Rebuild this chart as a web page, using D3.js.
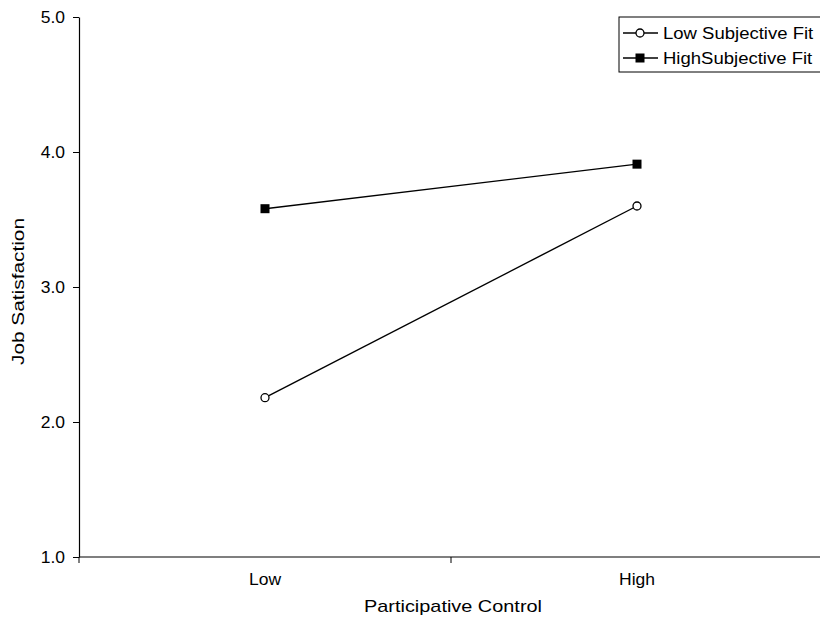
<!DOCTYPE html>
<html>
<head>
<meta charset="utf-8">
<script src="https://cdn.jsdelivr.net/npm/d3@7"></script>
<style>
  body { margin: 0; background: #fff; }
  text { font-family: "Liberation Sans", Arial, sans-serif; fill: #000; }
</style>
</head>
<body>
<script>
const w = 820;
const h = 627;

const categories = ["Low", "High"];
const seriesNames = ["Low Subjective Fit", "HighSubjective Fit"];
const lowFit = [2.18, 3.60];
const highFit = [3.58, 3.91];
const yTicks = [1, 2, 3, 4, 5];

// the original text is a bit wider than Arial, so stretch along the baseline
const sx = 1.06;

const svg = d3.select("body")
  .append("svg")
  .attr("width", w)
  .attr("height", h);

const x = d3.scaleBand()
  .domain(categories)
  .range([79, 823]);

const y = d3.scaleLinear()
  .domain([1, 5])
  .range([557, 17]);

// y axis
const yAxis = svg.append("g")
  .attr("transform", "translate(79,0)")
  .call(d3.axisLeft(y).tickValues(yTicks).tickFormat(d3.format(".1f")).tickSize(6).tickSizeOuter(0));
yAxis.select(".domain").attr("stroke", "#000").attr("stroke-width", 1.2);
yAxis.selectAll(".tick line").attr("stroke", "#000");
yAxis.selectAll(".tick text")
  .attr("font-size", 16.5)
  .attr("x", -14 / sx)
  .attr("dy", "0.35em")
  .attr("transform", "scale(" + sx + ",1)");

// x axis, ticks on band edges
const xAxis = svg.append("g")
  .attr("transform", "translate(0,557)");
xAxis.append("line")
  .attr("x1", 79).attr("x2", 823)
  .attr("stroke", "#000").attr("stroke-width", 1.2);
xAxis.selectAll(".edge")
  .data(categories.map(c => x(c)).concat([x.range()[1]]))
  .enter()
  .append("line")
  .attr("x1", d => d).attr("x2", d => d)
  .attr("y1", 0).attr("y2", 6)
  .attr("stroke", "#000");
xAxis.selectAll(".lbl")
  .data(categories)
  .enter()
  .append("text")
  .attr("x", d => (x(d) + x.bandwidth() / 2) / sx)
  .attr("y", 28)
  .attr("transform", "scale(" + sx + ",1)")
  .attr("text-anchor", "middle")
  .attr("font-size", 16.5)
  .text(d => d);

// titles
svg.append("text")
  .attr("x", 453 - 89)
  .attr("y", 612)
  .attr("font-size", 17)
  .attr("textLength", 178)
  .attr("lengthAdjust", "spacingAndGlyphs")
  .text("Participative Control");

svg.append("text")
  .attr("transform", "translate(24,365) rotate(-90)")
  .attr("font-size", 17)
  .attr("textLength", 147)
  .attr("lengthAdjust", "spacingAndGlyphs")
  .text("Job Satisfaction");

const cx = d => x(d) + x.bandwidth() / 2;
const line = d3.line()
  .x((d, i) => cx(categories[i]))
  .y(d => y(d));

// lines
[lowFit, highFit].forEach(vals => {
  svg.append("path")
    .datum(vals)
    .attr("d", line)
    .attr("fill", "none")
    .attr("stroke", "#000")
    .attr("stroke-width", 1.4);
});

// markers
svg.selectAll(".ptLow")
  .data(lowFit)
  .enter()
  .append("circle")
  .attr("cx", (d, i) => cx(categories[i]))
  .attr("cy", d => y(d))
  .attr("r", 4)
  .attr("fill", "#fff")
  .attr("stroke", "#000")
  .attr("stroke-width", 1.3);

svg.selectAll(".ptHigh")
  .data(highFit)
  .enter()
  .append("rect")
  .attr("x", (d, i) => cx(categories[i]) - 4.5)
  .attr("y", d => y(d) - 4.5)
  .attr("width", 9)
  .attr("height", 9)
  .attr("fill", "#000");

// legend
const legend = svg.append("g").attr("transform", "translate(619,17)");
legend.append("rect")
  .attr("x", 0).attr("y", 0)
  .attr("width", 210).attr("height", 55)
  .attr("fill", "#fff")
  .attr("stroke", "#000")
  .attr("stroke-width", 1);

const items = legend.selectAll(".item")
  .data(seriesNames)
  .enter()
  .append("g")
  .attr("transform", (d, i) => "translate(0," + (16 + i * 25) + ")");

items.append("line")
  .attr("x1", 4).attr("x2", 39)
  .attr("stroke", "#000").attr("stroke-width", 1.4);
items.filter((d, i) => i === 0).append("circle")
  .attr("cx", 21).attr("r", 4)
  .attr("fill", "#fff").attr("stroke", "#000").attr("stroke-width", 1.3);
items.filter((d, i) => i === 1).append("rect")
  .attr("x", 16.5).attr("y", -4.5).attr("width", 9).attr("height", 9)
  .attr("fill", "#000");
items.append("text")
  .attr("x", 44 / 1.09)
  .attr("transform", "scale(1.09,1)")
  .attr("dy", "0.35em")
  .attr("font-size", 17)
  .text(d => d);
</script>
</body>
</html>
